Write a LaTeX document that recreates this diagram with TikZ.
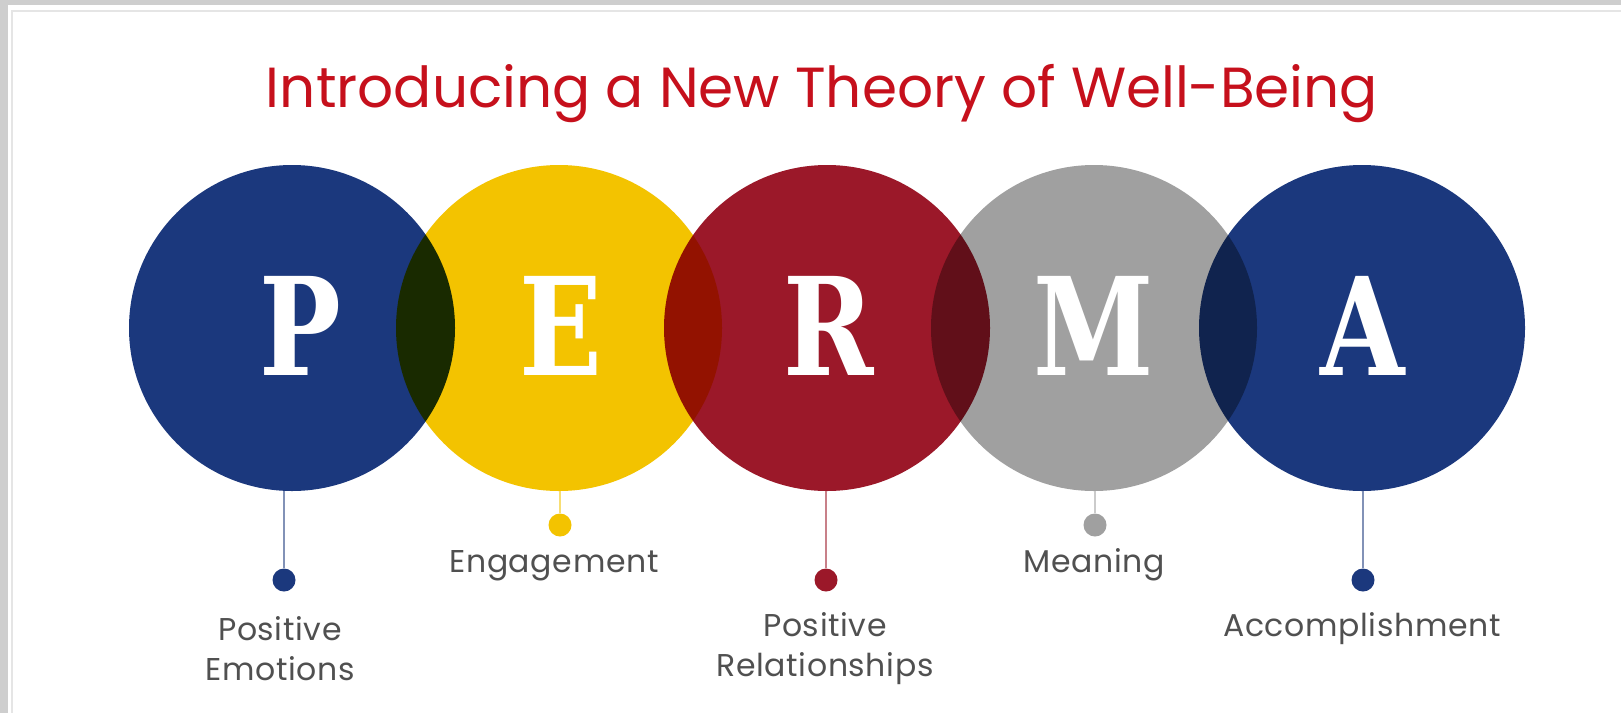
\documentclass[tikz,border=0pt]{standalone}
\usepackage{fontspec}
\setmainfont{Poppins}
\newfontfamily\slabfont{DejaVu Serif}
\definecolor{navy}{RGB}{27,56,125}
\definecolor{gold}{RGB}{243,195,0}
\definecolor{crimson}{RGB}{155,24,41}
\definecolor{stone}{RGB}{160,160,160}
\definecolor{titlered}{RGB}{198,16,28}
\definecolor{labelgray}{RGB}{80,80,80}
\definecolor{framegray}{RGB}{206,206,206}

\newcommand{\bigletter}[1]{\scalebox{0.8}[1]{\bfseries #1}}

\tikzset{
	disc/.style={circle, minimum size=326pt, inner sep=0pt, fill=#1},
	letter/.style={text=white, font=\slabfont\fontsize{136}{136}\selectfont, anchor=base},
	dot/.style={circle, minimum size=23pt, inner sep=0pt, fill=#1},
	stem/.style={line width=2.4pt, draw=#1!55},
	caption/.style={text=labelgray, font=\fontsize{31.5}{40}\selectfont\addfontfeature{LetterSpace=2}, align=center, anchor=base}
}

\begin{document}
\begin{tikzpicture}[x=1pt, y=-1pt]
	\useasboundingbox (0,0) rectangle (1621,713);
	% frame
	\fill[framegray] (0,0) rectangle (1621,713);
	\fill[white] (8,5) rectangle (1621,713);
	\draw[gray!20, line width=2pt] (12,713) -- (12,11) -- (1621,11);

	\node[text=titlered, font=\fontsize{56.5}{60}\selectfont, anchor=base] (title) at (822,107) {Introducing a New Theory of Well-Being};

	\begin{scope}[blend group=multiply]
		\node[disc=navy] (cP) at (292,328) {};
		\node[disc=gold] (cE) at (559,328) {};
		\node[disc=crimson] (cR) at (827,328) {};
		\node[disc=stone] (cM) at (1094,328) {};
		\node[disc=navy] (cA) at (1362,328) {};
	\end{scope}

	\node[letter] (P) at (300,375) {\bigletter{P}};
	\node[letter] (E) at (561,375) {\bigletter{E}};
	\node[letter] (R) at (829,375) {\bigletter{R}};
	\node[letter] (M) at (1094,375) {\bigletter{M}};
	\node[letter] (A) at (1363,375) {\bigletter{A}};

	\node[dot=navy] (dP) at (284,580) {};
	\node[dot=gold] (dE) at (560,525) {};
	\node[dot=crimson] (dR) at (826,580) {};
	\node[dot=stone] (dM) at (1095,525) {};
	\node[dot=navy] (dA) at (1363,580) {};

	\draw[stem=navy] (dP) -- (dP |- cP.south);
	\draw[stem=gold] (dE) -- (dE |- cE.south);
	\draw[stem=crimson] (dR) -- (dR |- cR.south);
	\draw[stem=stone] (dM) -- (dM |- cM.south);
	\draw[stem=navy] (dA) -- (dA |- cA.south);

	\node[caption] (lP) at (280,680) {Positive\\Emotions};
	\node[caption] (lE) at (554,572) {Engagement};
	\node[caption] (lR) at (825,676) {Positive\\Relationships};
	\node[caption] (lM) at (1094,572) {Meaning};
	\node[caption] (lA) at (1362,636) {Accomplishment};
\end{tikzpicture}
\end{document}
